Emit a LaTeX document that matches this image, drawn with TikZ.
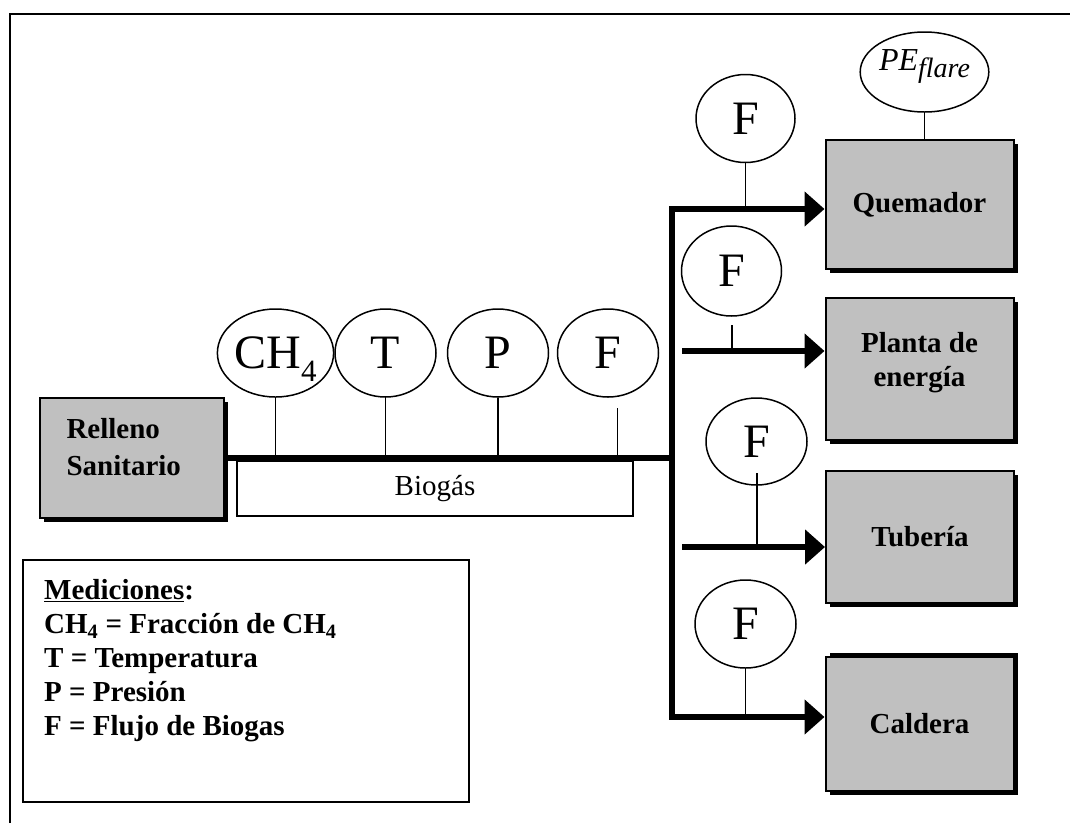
\documentclass[tikz,border=0pt]{standalone}
\usepackage{fontspec}
\setmainfont{Liberation Serif}
\usetikzlibrary{shapes.geometric,arrows.meta,shadows}
\definecolor{unitgray}{HTML}{C0C0C0}
\newcommand{\metersize}{\fontsize{48}{48}\selectfont}
\newcommand{\labelsize}{\fontsize{29}{34}\selectfont}

\begin{document}
\begin{tikzpicture}[x=1pt,y=-1pt,
	meter/.style={ellipse,draw,line width=1.5pt,inner sep=0pt,minimum width=101pt,minimum height=88pt,font=\metersize},
	plantbox/.style={draw,line width=2pt,fill=unitgray,minimum width=188pt,align=center,font=\labelsize\bfseries,
		general shadow={fill=black,shadow xshift=4pt,shadow yshift=-4pt}},
	pipeline/.style={line width=5.5pt},
	flowtip/.style={-{Triangle[length=20pt,width=34pt]}},
	stemline/.style={line width=1.5pt}]
	\useasboundingbox (0,0) rectangle (1070,823);
	\draw[line width=2.5pt] (10,823)--(10,14)--(1070,14);

	% relleno y linea principal
	\node[plantbox,minimum width=184pt,minimum height=120pt] (relleno) at (132,458) {};
	\node[anchor=west,align=left,font=\fontsize{29}{37}\selectfont\bfseries] (rellenotext) at (63,447) {Relleno\\Sanitario};
	\node[draw,line width=1.5pt,minimum width=396pt,minimum height=55pt,font=\labelsize] (biogas) at (435,488.5) {Biogás};
	\coordinate (busmid) at (672,458);
	\coordinate (bustop) at (672,209);
	\coordinate (busbot) at (672,717);
	\draw[pipeline] (relleno.east) -- (busmid);

	\node[meter] (ch4) at (275.5,353) {CH\smash{\raisebox{-13pt}{\fontsize{31}{31}\selectfont 4}}};
	\node[meter] (temp) at (385.5,353) {T};
	\node[meter] (pres) at (498,353) {P};
	\node[meter] (fmain) at (608,353) {F};
	\coordinate (fmaintap) at (617.5,408);
	\draw[stemline] (ch4.south) -- (ch4.south |- busmid);
	\draw[stemline] (temp.south) -- (temp.south |- busmid);
	\draw[stemline] (pres.south) -- (pres.south |- busmid);
	\draw[stemline] (fmaintap) -- (fmaintap |- busmid);

	% destinos
	\node[plantbox,minimum height=129pt] (quemador) at (919.5,204.5) {Quemador};
	\node[plantbox,minimum height=142pt,text depth=20pt] (planta) at (919.5,369) {Planta de\\energía};
	\node[plantbox,minimum height=132pt] (tuberia) at (920,537) {Tubería};
	\node[plantbox,minimum height=134pt,general shadow={fill=black,shadow xshift=4pt,shadow yshift=4pt}] (caldera) at (919.5,724) {Caldera};

	\draw[pipeline,{Triangle[length=20pt,width=34pt]}-{Triangle[length=20pt,width=34pt]}]
		(busbot -| caldera.west) -- (busbot) -- (bustop) -- (bustop -| quemador.west);
	\coordinate (plantin) at (682,351);
	\coordinate (pipein) at (682,547);
	\draw[pipeline,flowtip] (plantin) -- (plantin -| planta.west);
	\draw[pipeline,flowtip] (pipein) -- (pipein -| tuberia.west);

	\node[meter,minimum width=99pt] (fq) at (745.5,118.5) {F};
	\node[meter,minimum width=100pt,minimum height=90pt] (fp) at (731.5,271) {F};
	\node[meter,minimum height=87pt] (ft) at (756.5,441.5) {F};
	\node[meter] (fc) at (745.5,624) {F};
	\node[meter,minimum height=80pt,font=\fontsize{32}{32}\selectfont\itshape,text depth=24pt] (pe) at (924.5,72)
		{PE\smash{\raisebox{-7pt}{\fontsize{28}{28}\selectfont flare}}};
	\coordinate (fptap) at (732,325);
	\coordinate (fttap) at (757,473);
	\draw[stemline] (fq.south) -- (fq.south |- bustop);
	\draw[stemline] (fptap) -- (fptap |- plantin);
	\draw[stemline] (fttap) -- (fttap |- pipein);
	\draw[stemline] (fc.south) -- (fc.south |- busbot);
	\draw[stemline] (pe.south) -- (pe.south |- quemador.north);

	% leyenda
	\node[draw,line width=1.5pt,minimum width=446pt,minimum height=242pt] (legend) at (246,681) {};
	\node[anchor=north west,inner sep=0pt,align=left,font=\labelsize\bfseries] (legendtext) at (44,579)
		{\underline{Mediciones}:\\CH\textsubscript{4} = Fracción de CH\textsubscript{4}\\T = Temperatura\\P = Presión\\F = Flujo de Biogas};
\end{tikzpicture}
\end{document}
